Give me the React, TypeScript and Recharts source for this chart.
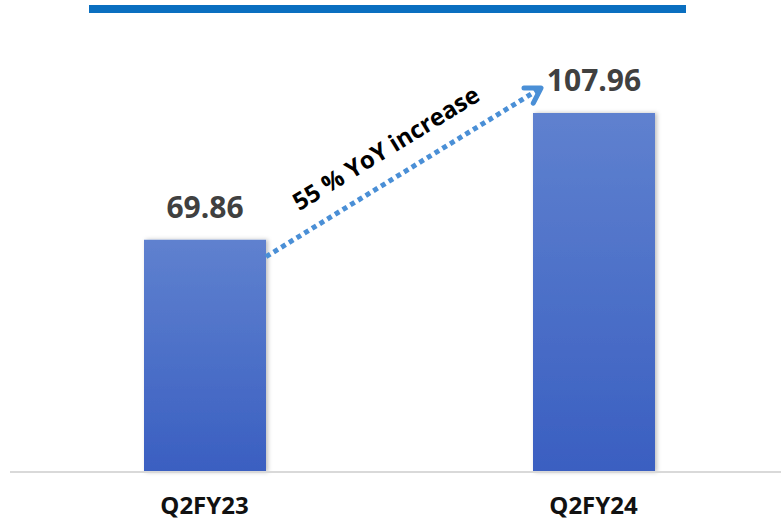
import React from "react";
import { Bar, BarChart, XAxis, YAxis, LabelList, Cell } from "recharts";

const quarters = ["Q2FY23", "Q2FY24"];
const revenue = [69.86, 107.96];
const yoyNote = "55 % YoY increase";

const data = quarters.map((q, i) => ({ name: q, value: revenue[i] }));

const CHART_W = 800;
const CHART_H = 522;
const MARGIN = { top: 73, right: 12, left: 10, bottom: 0 };
const STEP = (CHART_W - MARGIN.left - MARGIN.right) / quarters.length;
const FONT = "'Open Sans', sans-serif";

const ValueLabel = (props: any) => {
  const { x, y, width, value } = props;
  return (
    <text
      x={x + width / 2}
      y={y - 22}
      textAnchor="middle"
      fontFamily={FONT}
      fontWeight={700}
      fontSize={30}
      fill="#404040"
    >
      {Number(value).toFixed(2)}
    </text>
  );
};

// dotted arrow from the first bar to the second, drawn off the second bar's geometry
const ArrowLabel = (props: any) => {
  const { x, y, width, height, index } = props;
  if (index !== 1) return null;
  const base = y + height;
  const prevTop = base - (height * revenue[0]) / revenue[1];
  const x1 = x - STEP + width;
  const y1 = prevTop + 17;
  const x2 = x + 8;
  const y2 = y - 25;
  const ang = Math.atan2(y2 - y1, x2 - x1);
  const deg = (ang * 180) / Math.PI;
  const len = 17;
  const a1 = ang + Math.PI - 0.55;
  const a2 = ang + Math.PI + 0.55;
  const mx = (x1 + x2) / 2 - 18;
  const my = (y1 + y2) / 2 - 25;
  return (
    <g>
      <line
        x1={x1}
        y1={y1}
        x2={x2 - 4 * Math.cos(ang)}
        y2={y2 - 4 * Math.sin(ang)}
        stroke="#4a8fd6"
        strokeWidth={5}
        strokeDasharray="5 4"
      />
      <polyline
        points={`${x2 + len * Math.cos(a1)},${y2 + len * Math.sin(a1)} ${x2},${y2} ${x2 + len * Math.cos(a2)},${y2 + len * Math.sin(a2)}`}
        fill="none"
        stroke="#4a8fd6"
        strokeWidth={5}
        strokeLinecap="round"
        strokeLinejoin="round"
      />
      <text
        x={mx}
        y={my}
        transform={`rotate(${deg}, ${mx}, ${my})`}
        textAnchor="middle"
        dominantBaseline="central"
        fontFamily={FONT}
        fontWeight={700}
        fontSize={24}
        fill="#000"
      >
        {yoyNote}
      </text>
    </g>
  );
};

const QuarterTick = (props: any) => {
  const { x, y, payload } = props;
  return (
    <text
      x={x}
      y={y + 34}
      textAnchor="middle"
      fontFamily={FONT}
      fontWeight={700}
      fontSize={24}
      fill="#111"
    >
      {payload.value}
    </text>
  );
};

export default function App() {
  return (
    <div
      style={{
        position: "absolute",
        left: 0,
        top: 0,
        width: 781,
        height: 522,
        overflow: "hidden",
        background: "#fff",
      }}
    >
      <div
        style={{
          position: "absolute",
          left: 89,
          top: 5,
          width: 597,
          height: 8,
          background: "#0a6fc0",
        }}
      />
      <BarChart width={CHART_W} height={CHART_H} data={data} margin={MARGIN}>
        <defs>
          <linearGradient id="barFill" x1="0" y1="0" x2="0" y2="1">
            <stop offset="0%" stopColor="#5f81cf" />
            <stop offset="100%" stopColor="#3a5fc1" />
          </linearGradient>
          <filter id="barShadow" x="-10%" y="-5%" width="120%" height="110%">
            <feDropShadow dx="2" dy="0" stdDeviation="2" floodColor="#000" floodOpacity="0.25" />
          </filter>
        </defs>
        <XAxis
          dataKey="name"
          height={50}
          tickLine={false}
          axisLine={{ stroke: "#d9d9d9", strokeWidth: 2 }}
          tick={<QuarterTick />}
          interval={0}
        />
        <YAxis hide domain={[0, 120]} />
        <Bar
          dataKey="value"
          barSize={122}
          fill="url(#barFill)"
          filter="url(#barShadow)"
          isAnimationActive={false}
        >
          {data.map((d) => (
            <Cell key={d.name} fill="url(#barFill)" />
          ))}
          <LabelList dataKey="value" content={<ValueLabel />} />
          <LabelList dataKey="value" content={<ArrowLabel />} />
        </Bar>
      </BarChart>
    </div>
  );
}
